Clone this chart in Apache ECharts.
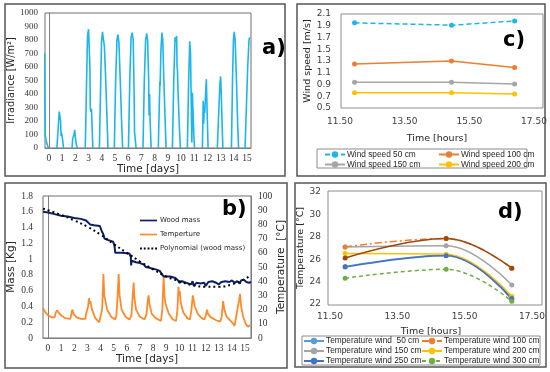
<!DOCTYPE html>
<html><head><meta charset="utf-8">
<script src="https://cdn.jsdelivr.net/npm/echarts@6/dist/echarts.min.js"></script>
<style>html,body{margin:0;padding:0;background:#fff}#c{width:550px;height:372px}</style>
</head><body><div id="c"></div>
<script>
// ---------- Panel a: irradiance ----------
const irrDay = [-0.33,-0.31,-0.28,-0.22,-0.12,-0.02,null,
0.6,0.7,0.78,0.82,0.88,0.92,0.96,1.0,1.05,1.1,null,
1.75,1.8,1.85,1.9,1.95,2.0,2.08,2.15,null,
2.75,2.85,2.92,3.0,3.05,3.1,3.13,3.17,3.22,3.27,3.32,null,
3.82,3.9,3.98,4.05,4.1,4.2,4.3,4.4,4.47,null,
4.95,5.05,5.15,5.22,5.3,5.4,5.5,5.58,null,
6.02,6.12,6.22,6.3,6.38,6.45,6.48,6.52,6.6,null,
7.12,7.22,7.32,7.4,7.47,7.55,7.58,7.62,7.66,7.74,null,
8.28,8.35,8.4,8.42,8.47,8.55,8.62,8.7,8.8,8.87,null,
9.35,9.45,9.55,9.6,9.67,9.7,9.73,9.78,9.88,9.95,null,
10.48,10.58,10.66,10.72,10.78,10.82,10.86,10.9,10.97,11.02,null,
11.62,11.68,11.72,11.76,11.8,11.86,11.92,11.97,12.05,null,
12.75,12.85,12.95,13.0,13.05,13.12,13.17,null,
13.82,13.9,13.97,14.03,14.1,14.2,14.3,14.36,null,
14.85,14.95,15.05,15.15,15.2];
const irrValue = [700,380,100,60,20,0,null,
0,150,270,280,200,90,110,100,50,0,null,
0,70,60,100,135,80,20,0,null,
0,500,830,880,870,600,300,270,290,150,0,null,
0,400,780,860,860,750,500,200,0,null,
0,500,800,840,780,500,200,0,null,
0,500,820,855,800,400,120,110,0,null,
0,500,800,850,800,500,240,400,200,0,null,
0,300,490,460,700,855,800,500,200,0,null,
0,500,820,790,830,600,580,400,150,0,null,
0,500,790,700,300,40,410,400,100,0,null,
0,350,180,310,260,400,510,300,0,null,
0,250,480,530,400,150,0,null,
0,500,800,860,800,500,150,0,null,
0,300,600,800,820];
const dayTicks = [0,1,2,3,4,5,6,7,8,9,10,11,12,13,14,15];

// ---------- Panel b: wood mass & temperature ----------
const massDay = [-0.38,0,0.5,1.0,1.5,2.0,2.5,2.9,3.05,3.2,3.5,3.95,4.05,4.1,4.2,4.3,4.6,4.95,5.05,5.12,5.6,6.2,6.3,6.33,6.36,6.7,7.0,7.3,7.45,7.6,8.2,8.5,8.65,8.8,9.3,9.7,9.9,10.0,10.2,10.5,10.9,11.0,11.1,11.3,11.6,11.9,12.0,12.2,12.5,12.8,13.0,13.2,13.5,13.8,14.0,14.2,14.4,14.6,14.7,14.9,15.1,15.3,15.45];
const massKg = [1.60,1.59,1.57,1.55,1.54,1.52,1.51,1.49,1.48,1.44,1.43,1.42,1.41,1.35,1.32,1.26,1.24,1.22,1.18,1.08,1.08,1.07,1.03,0.92,0.98,0.96,0.95,0.93,0.90,0.88,0.87,0.85,0.83,0.78,0.78,0.76,0.73,0.70,0.72,0.70,0.68,0.72,0.66,0.70,0.69,0.70,0.66,0.71,0.72,0.70,0.68,0.71,0.72,0.71,0.73,0.70,0.72,0.69,0.73,0.74,0.71,0.70,0.71];
const polyDay = [-0.38,1,2,3,4,5,6,7,8,9,10,11,12,13,14,15,15.45];
const polyKg = [1.64,1.56,1.49,1.41,1.31,1.19,1.08,0.97,0.87,0.78,0.72,0.67,0.65,0.65,0.68,0.75,0.80];
const tempDay = [-0.38,-0.2,0,0.3,0.5,0.6,0.68,0.8,1.0,1.3,1.7,1.78,1.85,1.95,2.2,2.5,2.85,2.9,3.05,3.12,3.18,3.22,3.35,3.6,3.9,4.05,4.12,4.22,4.28,4.35,4.5,4.8,5.1,5.2,5.3,5.38,5.45,5.6,5.9,6.2,6.35,6.45,6.52,6.58,6.7,7.0,7.35,7.5,7.6,7.66,7.72,7.9,8.2,8.6,8.7,8.8,8.86,8.95,9.2,9.5,9.75,9.85,9.93,9.98,10.03,10.1,10.3,10.6,10.8,10.92,11.02,11.1,11.18,11.4,11.7,11.9,12.02,12.1,12.18,12.4,12.8,13.1,13.22,13.33,13.42,13.6,13.9,14.1,14.2,14.35,14.45,14.55,14.62,14.7,14.85,15.05,15.2,15.4];
const tempC = [21,18,16,14.5,14.5,18,19.5,18,16,14,13.5,17,20,17,14.5,13.5,13.5,17,22,28,24,26,20,14,11,11.5,20,45,30,27,20,15,13,15,30,45,30,20,15,13,16,30,39,28,20,15,13,17,27,30,24,17,14,12,20,43,30,24,17,13,12,20,36,30,33,25,18,14,13,20,30,31,22,17,14,13,16,20,17,14.5,12.5,11.5,15,26,20,15,12,10,8.5,9,22,27,31,22,15,10,8,9];

// ---------- Panel c: wind speed ----------
const hours = [11.95,14.95,16.9];
const ws50 = [1.95,1.91,1.98];
const ws100 = [1.25,1.30,1.19];
const ws150 = [0.94,0.94,0.91];
const ws200 = [0.76,0.76,0.74];
const hourTicks = [11.5,13.5,15.5,17.5];

// ---------- Panel d: temperature by height ----------
const tw50 = [25.35,26.35,22.4];
const tw100 = [27.1,27.85,25.2];
const tw150 = [27.1,27.2,23.7];
const tw200 = [26.5,26.45,22.7];
const tw250 = [25.3,26.3,22.5];
const tw300 = [24.3,25.1,22.25];
const twExtra = [26.1,27.85,25.2];

function pairs(xs, ys){ return xs.map((x,i)=> ys[i]===null ? [x,'-'] : [x, ys[i]]); }

const SANS = 'DejaVu Sans';
const SERIF = 'Liberation Serif';
const tickFont = {fontFamily: SERIF, fontSize: 9.5, color: '#333'};
const tickFontA = {fontFamily: SERIF, fontSize: 9, color: '#333'};
const cdFont = {fontFamily: SANS, fontSize: 9, color: '#404040'};
const nameFont = {fontFamily: SANS, fontSize: 10.5, color: '#262626'};
const nameFontY = {fontFamily: SANS, fontSize: 9.8, color: '#262626'};
const nameFontSm = {fontFamily: SANS, fontSize: 9.5, color: '#262626'};
const legFont = {fontFamily:'Liberation Sans', fontSize:8.3, color:'#262626', lineHeight:10, padding:[0,0,0,-3]};

const noSplit = {show:false};
const axLine = {show:true, lineStyle:{color:'#7f7f7f', width:1}};
const solidIcon = 'path://M0 0H20V2H0Z';
const dotIcon = 'path://M0 0H2V2H0Z M4 0H6V2H4Z M8 0H10V2H8Z M12 0H14V2H12Z M16 0H18V2H16Z';

const chart = echarts.init(document.getElementById('c'), null, {renderer:'canvas'});
const option = {
  animation: false,
  backgroundColor: '#fff',
  grid: [
    {left:45, top:13, width:206, height:135, show:true, borderColor:'#6f6f6f', borderWidth:1},
    {left:43, top:196, width:208, height:142, show:true, borderColor:'#6f6f6f', borderWidth:1},
    {left:340, top:14, width:194, height:94, show:false},
    {left:330, top:192, width:202, height:112, show:false}
  ],
  xAxis: [
    {gridIndex:0, type:'value', min:-0.3, max:15.3, splitLine:noSplit, axisLine:axLine, axisTick:{show:false},
     axisLabel:{customValues:dayTicks, ...tickFont, margin:5},
     name:'Time [days]', nameLocation:'middle', nameGap:16, nameTextStyle:nameFont},
    {gridIndex:1, type:'value', min:-0.38, max:15.45, splitLine:noSplit, axisLine:axLine, axisTick:{show:false},
     axisLabel:{customValues:dayTicks, ...tickFont, margin:5},
     name:'Time [days]', nameLocation:'middle', nameGap:15, nameTextStyle:nameFont},
    {gridIndex:2, type:'value', min:11.5, max:17.5, splitLine:noSplit, axisLine:{show:false}, axisTick:{show:false},
     axisLabel:{customValues:hourTicks, formatter:v=>v.toFixed(2), ...cdFont, margin:9},
     name:'Time [hours]', nameLocation:'middle', nameGap:26, nameTextStyle:nameFontSm},
    {gridIndex:3, type:'value', min:11.5, max:17.5, splitLine:noSplit, axisLine:{show:false}, axisTick:{show:false},
     axisLabel:{customValues:hourTicks, formatter:v=>v.toFixed(2), ...cdFont, margin:8},
     name:'Time [hours]', nameLocation:'middle', nameGap:23, nameTextStyle:nameFontSm}
  ],
  yAxis: [
    {gridIndex:0, type:'value', min:0, max:1000, interval:100, splitLine:noSplit, axisLine:axLine, axisTick:{show:false},
     axisLabel:{...tickFontA, margin:7, formatter:v=>String(v)},
     name:'Irradiance [W/m²]', nameLocation:'middle', nameGap:24, nameTextStyle:nameFontY},
    {gridIndex:1, type:'value', min:0, max:1.8, interval:0.2, splitLine:noSplit, axisLine:axLine, axisTick:{show:false},
     axisLabel:{...tickFont, margin:10, formatter:v=>String(Math.round(v*10)/10)},
     name:'Mass [Kg]', nameLocation:'middle', nameGap:20, nameTextStyle:nameFont},
    {gridIndex:1, type:'value', position:'right', min:0, max:100, interval:10, splitLine:noSplit, axisLine:axLine, axisTick:{show:false},
     axisLabel:{...tickFont, margin:7},
     name:'Temperature  [°C]', nameLocation:'middle', nameGap:21, nameRotate:90, nameTextStyle:nameFont},
    {gridIndex:2, type:'value', min:0.5, max:2.1, interval:0.2, splitLine:noSplit, axisLine:{show:false}, axisTick:{show:false},
     axisLabel:{formatter:v=>v.toFixed(1), ...cdFont, margin:9},
     name:'Wind speed [m/s]', nameLocation:'middle', nameGap:27, nameTextStyle:nameFontSm},
    {gridIndex:3, type:'value', min:22, max:32, interval:2, splitLine:noSplit, axisLine:{show:false}, axisTick:{show:false},
     axisLabel:{...cdFont, margin:9},
     name:'Temperature [°C]', nameLocation:'middle', nameGap:17, nameTextStyle:nameFontSm}
  ],
  legend: [
    {left:140, top:216, orient:'vertical', itemGap:5, itemWidth:17, itemHeight:2, padding:0,
     textStyle:{fontFamily:SANS, fontSize:7, color:'#262626', lineHeight:9, padding:[0,0,0,-2]},
     data:[{name:'Wood mass', icon:solidIcon}, {name:'Temperture', icon:solidIcon}, {name:'Polynomial (wood mass)', icon:dotIcon}]},
    {left:324, top:149.5, orient:'vertical', itemGap:0, itemWidth:20, itemHeight:8, padding:0, textStyle:legFont,
     data:['Wind speed 50 cm','Wind speed 150 cm']},
    {left:438, top:149.5, orient:'vertical', itemGap:0, itemWidth:20, itemHeight:8, padding:0, textStyle:legFont,
     data:['Wind speed 100 cm','Wind speed 200 cm']},
    {left:303, top:336, orient:'vertical', itemGap:0, itemWidth:20, itemHeight:8, padding:0, textStyle:legFont,
     data:['Temperature wind  50 cm','Temperature wind 150 cm','Temperature wind 250 cm']},
    {left:421, top:336, orient:'vertical', itemGap:0, itemWidth:20, itemHeight:8, padding:0, textStyle:legFont,
     data:['Temperature wind 100 cm','Temperature wind 200 cm','Temperature wind 300 cm']}
  ],
  series: [
    {type:'line', xAxisIndex:0, yAxisIndex:0, data:pairs(irrDay, irrValue), symbol:'none', connectNulls:false,
     lineStyle:{color:'#1cb5ec', width:1.6}, itemStyle:{color:'#1cb5ec'}},
    {name:'Temperture', type:'line', xAxisIndex:1, yAxisIndex:2, data:pairs(tempDay, tempC), symbol:'none',
     lineStyle:{color:'#ff8a2a', width:1.8}, itemStyle:{color:'#ff8a2a'}},
    {name:'Wood mass', type:'line', xAxisIndex:1, yAxisIndex:1, data:pairs(massDay, massKg), symbol:'none',
     lineStyle:{color:'#0b1f66', width:2}, itemStyle:{color:'#0b1f66'}},
    {name:'Polynomial (wood mass)', type:'line', xAxisIndex:1, yAxisIndex:1, data:pairs(polyDay, polyKg), symbol:'none', smooth:true,
     lineStyle:{color:'#000', width:2, type:[2,3]}, itemStyle:{color:'#000'}},

    {name:'Wind speed 50 cm', type:'line', xAxisIndex:2, yAxisIndex:3, data:pairs(hours, ws50), symbol:'circle', symbolSize:5,
     lineStyle:{color:'#1cb5ec', width:1.5, type:[5,3]}, itemStyle:{color:'#1cb5ec'}},
    {name:'Wind speed 100 cm', type:'line', xAxisIndex:2, yAxisIndex:3, data:pairs(hours, ws100), symbol:'circle', symbolSize:5,
     lineStyle:{color:'#ED7D31', width:1.5}, itemStyle:{color:'#ED7D31'}},
    {name:'Wind speed 150 cm', type:'line', xAxisIndex:2, yAxisIndex:3, data:pairs(hours, ws150), symbol:'circle', symbolSize:5,
     lineStyle:{color:'#A5A5A5', width:1.5}, itemStyle:{color:'#A5A5A5'}},
    {name:'Wind speed 200 cm', type:'line', xAxisIndex:2, yAxisIndex:3, data:pairs(hours, ws200), symbol:'circle', symbolSize:5,
     lineStyle:{color:'#FFC000', width:1.5}, itemStyle:{color:'#FFC000'}},

    {name:'Temperature wind  50 cm', type:'line', xAxisIndex:3, yAxisIndex:4, data:pairs(hours, tw50), smooth:0.4, symbol:'circle', symbolSize:5,
     lineStyle:{color:'#5B9BD5', width:1.5}, itemStyle:{color:'#5B9BD5'}},
    {name:'Temperature wind 150 cm', type:'line', xAxisIndex:3, yAxisIndex:4, data:pairs(hours, tw150), smooth:0.4, symbol:'circle', symbolSize:5,
     lineStyle:{color:'#A5A5A5', width:1.5}, itemStyle:{color:'#A5A5A5'}},
    {name:'Temperature wind 200 cm', type:'line', xAxisIndex:3, yAxisIndex:4, data:pairs(hours, tw200), smooth:0.4, symbol:'circle', symbolSize:5,
     lineStyle:{color:'#FFC000', width:1.5}, itemStyle:{color:'#FFC000'}},
    {name:'Temperature wind 250 cm', type:'line', xAxisIndex:3, yAxisIndex:4, data:pairs(hours, tw250), smooth:0.4, symbol:'circle', symbolSize:5,
     lineStyle:{color:'#4472C4', width:1.5}, itemStyle:{color:'#4472C4'}},
    {name:'Temperature wind 300 cm', type:'line', xAxisIndex:3, yAxisIndex:4, data:pairs(hours, tw300), smooth:0.4, symbol:'circle', symbolSize:5,
     lineStyle:{color:'#70AD47', width:1.5, type:[4,3]}, itemStyle:{color:'#70AD47'}},
    {name:'Temperature wind 100 cm', type:'line', xAxisIndex:3, yAxisIndex:4, data:pairs(hours, tw100), smooth:0.4, symbol:'circle', symbolSize:5,
     lineStyle:{color:'#ED7D31', width:1.5, type:[7,3,2,3]}, itemStyle:{color:'#ED7D31'}},
    {name:'extra', type:'line', xAxisIndex:3, yAxisIndex:4, data:pairs(hours, twExtra), smooth:0.4, symbol:'circle', symbolSize:5,
     lineStyle:{color:'#9E480E', width:1.5}, itemStyle:{color:'#9E480E'}}
  ],
  graphic: [
    {type:'rect', shape:{x:5, y:4, width:280, height:172}, style:{fill:'none', stroke:'#555', lineWidth:1.5}, silent:true},
    {type:'rect', shape:{x:297, y:4, width:248, height:172}, style:{fill:'none', stroke:'#555', lineWidth:1.5}, silent:true},
    {type:'rect', shape:{x:5, y:183, width:282, height:185}, style:{fill:'none', stroke:'#555', lineWidth:1.5}, silent:true},
    {type:'rect', shape:{x:295, y:183, width:251, height:184}, style:{fill:'none', stroke:'#555', lineWidth:1.5}, silent:true},
    {type:'rect', shape:{x:341, y:14, width:202, height:94}, style:{fill:'none', stroke:'#8c8c8c', lineWidth:1}, silent:true},
    {type:'rect', shape:{x:328, y:191, width:214, height:114}, style:{fill:'none', stroke:'#8c8c8c', lineWidth:1}, silent:true},
    {type:'rect', shape:{x:317, y:149, width:210, height:19}, style:{fill:'none', stroke:'#8c8c8c', lineWidth:1}, silent:true},
    {type:'rect', shape:{x:302, y:336, width:238, height:29}, style:{fill:'none', stroke:'#8c8c8c', lineWidth:1}, silent:true},
    {type:'text', left:262, top:38, style:{text:'a)', font:'bold 21px "DejaVu Sans"', fill:'#000'}},
    {type:'text', left:222, top:199, style:{text:'b)', font:'bold 21px "DejaVu Sans"', fill:'#000'}},
    {type:'text', left:503, top:30, style:{text:'c)', font:'bold 21px "DejaVu Sans"', fill:'#000'}},
    {type:'text', left:498, top:202, style:{text:'d)', font:'bold 21px "DejaVu Sans"', fill:'#000'}}
  ]
};
chart.setOption(option);
</script>
</body></html>
